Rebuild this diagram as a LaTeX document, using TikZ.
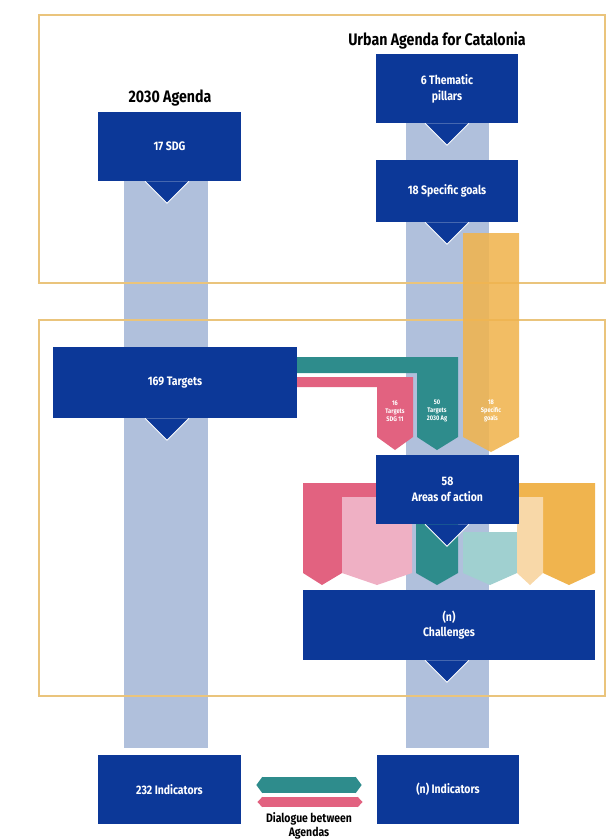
\documentclass[tikz,border=0pt]{standalone}
\usepackage{fontspec}
\setmainfont[FakeStretch=0.85]{Fira Sans}
\usetikzlibrary{calc,arrows.meta}

\definecolor{agnavy}{RGB}{12,56,152}
\definecolor{barblue}{RGB}{176,192,220}
\definecolor{agteal}{RGB}{46,140,140}
\definecolor{agpink}{RGB}{226,98,128}
\definecolor{agorange}{RGB}{240,180,78}
\definecolor{lightpink}{RGB}{239,176,196}
\definecolor{lightteal}{RGB}{160,208,208}
\definecolor{agpeach}{RGB}{248,216,168}
\definecolor{framegold}{RGB}{234,196,124}

% pointer under a box: #1 node, #2 x of the tip
\newcommand{\boxtip}[2]{%
  \fill[agnavy] (#2-22,0 |- #1.south) -- (#2+22,0 |- #1.south) -- ($(#2,0 |- #1.south)+(0,22)$) -- cycle;
  \draw[white, line width=0.5pt] (#2-22,0 |- #1.south) -- ($(#2,0 |- #1.south)+(0,22)$) -- (#2+22,0 |- #1.south);}

% coloured tab with pointed bottom: x1, x2, top, colour
\newcommand{\chevtab}[4]{%
  \fill[#4] (#1,#3) -- (#2,#3) -- (#2,573) -- ({(#1+#2)/2},585) -- (#1,573) -- cycle;}

\begin{document}
\begin{tikzpicture}[x=0.02cm, y=-0.02cm,
  agbox/.style={fill=agnavy, text=white, inner sep=0pt, align=center,
    font=\bfseries\fontsize{7}{9}\selectfont},
  agtitle/.style={font=\bfseries\fontsize{9.5}{11}\selectfont},
  tabtext/.style={text=white, align=center, font=\bfseries\fontsize{3.8}{4.6}\selectfont},
  agframe/.style={draw=framegold, line width=0.8pt}]
  \useasboundingbox (0,0) rectangle (607,839);

  % Light bars
  \fill[barblue] (124,181) rectangle (208,748);
  \fill[barblue] (406,123) rectangle (489,748);

  % Frames
  \draw[agframe] (39,15) rectangle (605,283);
  \draw[agframe] (39,320) rectangle (605,696);

  % Titles
  \node[agtitle] (t2030) at (170,98) {2030 Agenda};
  \node[agtitle] (turban) at (437,41) {Urban Agenda for Catalonia};

  % Bands from targets and goals
  \fill[agorange, opacity=0.88] (463,233) -- (519,233) -- (519,437) -- (491,452) -- (463,437) -- cycle;
  \fill[agteal] (297,357) -- (458,357) -- (458,437) -- (437,450) -- (417,437) -- (417,373) -- (297,373) -- cycle;
  \fill[agpink] (297,377) -- (413,377) -- (413,437) -- (395,450) -- (377,437) -- (377,387) -- (297,387) -- cycle;
  \node[tabtext] (tsdg) at (395,411) {16\\Targets\\SDG 11};
  \node[tabtext] (tag) at (437,411) {50\\Targets\\2030 Ag};
  \node[tabtext] (tgoals) at (491,411) {18\\Specific\\goals};

  % Tabs under areas of action
  \fill[agpink] (303,483) -- (376,483) -- (376,497) -- (342,497) -- (342,573) -- (322,585) -- (303,573) -- cycle;
  \chevtab{342}{412}{497}{lightpink}
  \chevtab{416}{458}{520}{agteal}
  \chevtab{463}{517}{532}{lightteal}
  \fill[agorange] (519,483) -- (595,483) -- (595,573) -- (569,585) -- (543,573) -- (543,497) -- (519,497) -- cycle;
  \chevtab{517}{543}{497}{agpeach}

  % Boxes
  \node[agbox, minimum width=2.86cm, minimum height=1.38cm] (sdg) at (169.5,146.5) {17 SDG};
  \boxtip{sdg}{167}
  \node[agbox, minimum width=2.84cm, minimum height=1.38cm] (pillars) at (447,88.5) {6 Thematic\\pillars};
  \boxtip{pillars}{447}
  \node[agbox, minimum width=2.84cm, minimum height=1.24cm] (goals) at (447,191) {18 Specific goals};
  \boxtip{goals}{447}
  \node[agbox, minimum width=4.88cm, minimum height=1.42cm] (targets) at (175,382.5) {169 Targets};
  \boxtip{targets}{167}
  \node[agbox, minimum width=2.86cm, minimum height=1.38cm] (areas) at (447.5,489.5) {58\\Areas of action};
  \boxtip{areas}{447}
  \node[agbox, minimum width=5.84cm, minimum height=1.40cm] (challenges) at (449,625) {(n)\\Challenges};
  \boxtip{challenges}{447}
  \node[agbox, minimum width=2.86cm, minimum height=1.38cm] (ind1) at (169.5,789.5) {232 Indicators};
  \node[agbox, minimum width=2.84cm, minimum height=1.38cm] (ind2) at (448,789.5) {(n) Indicators};

  % Dialogue between agendas
  \draw[agteal, line width=0.32cm, {Triangle[length=0.12cm, width=0pt 1]}-{Triangle[length=0.12cm, width=0pt 1]}]
    ($(ind1.east)+(15,-4.5)$) -- ($(ind2.west)+(-15,-4.5)$);
  \draw[agpink, line width=0.2cm, {Triangle[length=0.1cm, width=0pt 1]}-{Triangle[length=0.1cm, width=0pt 1]}]
    ($(ind1.east)+(16,12.5)$) -- ($(ind2.west)+(-14,12.5)$);
  \node[font=\bfseries\fontsize{7}{8}\selectfont, align=center] (dialogue) at (309,826) {Dialogue between\\Agendas};
\end{tikzpicture}
\end{document}
